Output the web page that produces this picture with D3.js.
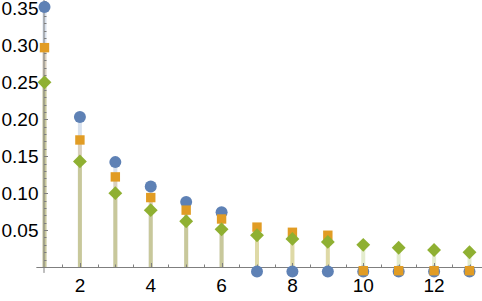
<!DOCTYPE html>
<html><head><meta charset="utf-8">
<script src="https://cdn.jsdelivr.net/npm/d3@7"></script>
<style>body{margin:0;background:#fff}svg{display:block}text{font-family:"Liberation Sans",Arial,sans-serif;fill:#000}</style>
</head><body><svg id="c" width="482" height="301"></svg>
<script>
const xs = [1,2,3,4,5,6,7,8,9,10,11,12,13];
const blue   = [0.352,0.203,0.142,0.109,0.088,0.074,-0.006,-0.006,-0.006,-0.006,-0.006,-0.006,-0.006];
const orange = [0.297,0.172,0.122,0.094,0.077,0.065,0.054,0.047,0.043,-0.005,-0.005,-0.005,-0.005];
const green  = [0.250,0.143,0.100,0.077,0.062,0.051,0.043,0.038,0.034,0.030,0.026,0.023,0.020];
const yTicks = [0.05,0.10,0.15,0.20,0.25,0.30,0.35];
const xTicks = [2,4,6,8,10,12];

const svg = d3.select("#c");
const x = d3.scaleLinear().domain([1,13]).range([44.5,469.5]);
const y = d3.scaleLinear().domain([0,0.35]).range([267,8.5]);
const cols = {blue:"#5e81b5", orange:"#e19c24", green:"#8fb032"};
const series = [{k:"blue",v:blue},{k:"orange",v:orange},{k:"green",v:green}];

// stems
series.forEach(s=>{
  svg.append("g").selectAll("line").data(xs).join("line")
    .attr("x1",d=>x(d)).attr("x2",d=>x(d))
    .attr("y1",y(0)).attr("y2",(d,i)=>y(s.v[i]))
    .attr("stroke",cols[s.k]).attr("stroke-opacity",0.24).attr("stroke-width",4);
});

// axes
const ax = "#7f7f7f";
const g = svg.append("g");
g.append("line").attr("x1",x(0.77)).attr("x2",482).attr("y1",y(0)+0.5).attr("y2",y(0)+0.5).attr("stroke",ax);
g.append("line").attr("x1",x(1)-0.5).attr("x2",x(1)-0.5).attr("y1",0).attr("y2",y(-0.008)).attr("stroke",ax);
const yMinor = d3.range(1,37).map(i=>i/100);
g.selectAll(".ym").data(yMinor).join("line")
  .attr("x1",x(1)-0.5).attr("x2",d=>x(1)-0.5+(Math.abs(d*20-Math.round(d*20))<1e-6?4:2.5))
  .attr("y1",d=>Math.round(y(d))+0.5).attr("y2",d=>Math.round(y(d))+0.5).attr("stroke",ax);
g.selectAll(".yl").data(yTicks).join("text")
  .attr("x",38.5).attr("y",d=>y(d)).attr("dy","0.36em").attr("text-anchor","end")
  .attr("font-size",19).text(d=>d3.format(".2f")(d));
const xMinor = d3.range(1.5,13.6,0.5);
g.selectAll(".xm").data(xMinor).join("line")
  .attr("x1",d=>Math.round(x(d))+0.5).attr("x2",d=>Math.round(x(d))+0.5)
  .attr("y1",y(0)).attr("y2",d=>y(0)-(d%2===0?4:2.5)).attr("stroke",ax);
g.selectAll(".xl").data(xTicks).join("text")
  .attr("x",d=>x(d)).attr("y",292).attr("text-anchor","middle")
  .attr("font-size",19).text(d=>d);

// markers
svg.append("g").selectAll("circle").data(xs).join("circle")
  .attr("cx",d=>x(d)).attr("cy",(d,i)=>y(blue[i])).attr("r",6).attr("fill",cols.blue);
svg.append("g").selectAll("rect").data(xs).join("rect")
  .attr("x",d=>x(d)-4.7).attr("y",(d,i)=>y(orange[i])-4.7).attr("width",9.4).attr("height",9.4).attr("fill",cols.orange);
const dia = d3.symbol().type(d3.symbolSquare).size(96);
svg.append("g").selectAll("path").data(xs).join("path")
  .attr("d",dia).attr("fill",cols.green)
  .attr("transform",(d,i)=>`translate(${x(d)},${y(green[i])}) rotate(45)`);
</script></body></html>
